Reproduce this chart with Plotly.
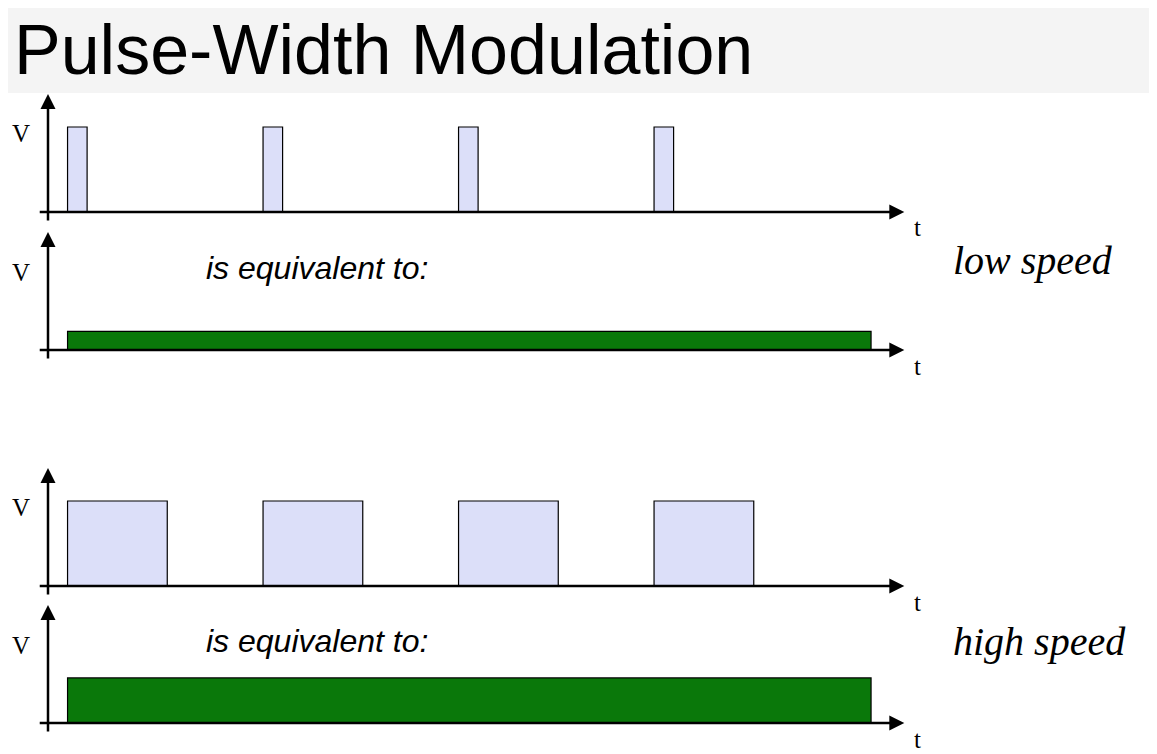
import plotly.graph_objects as go

# time in units of one PWM period, voltage in units of pulse height
pulse_starts = [0.1, 1.1, 2.1, 3.1]
low_width = 0.1
high_width = 0.51
pulse_v = 1.0
low_avg = 0.22
high_avg = 0.53
bar_start = 0.1
bar_end = 4.21
t_end = 4.38
speed_labels = ["low speed", "high speed"]

OFF = 8          # page margin of the html body
W, H = 1157 - OFF, 754 - OFF
PX = 195.5       # pixels per period
X0 = 48 - OFF    # pixel of t=0
VPX = 85         # pixels per volt

# baseline pixel y for each of the four panels
baselines = [b - OFF for b in [212, 350, 586, 723]]

fig = go.Figure()

layout = dict(
    width=W, height=H, margin=dict(l=0, r=0, t=0, b=0),
    paper_bgcolor="white", plot_bgcolor="rgba(0,0,0,0)", showlegend=False,
    xaxis=dict(range=[-X0 / PX, (W - X0) / PX], domain=[0, 1], visible=False, fixedrange=True),
)
for i, base in enumerate(baselines):
    top_px, bot_px = base - 125, base + 28
    name = "yaxis" if i == 0 else f"yaxis{i + 1}"
    layout[name] = dict(domain=[max(0, 1 - bot_px / H), 1 - top_px / H],
                        range=[-28 / VPX, 125 / VPX], visible=False, fixedrange=True)
fig.update_layout(**layout)

def yref(i):
    return "y" if i == 0 else f"y{i + 1}"

# pulse trains
for i, w in [(0, low_width), (2, high_width)]:
    fig.add_trace(go.Bar(
        x=[s + w / 2 for s in pulse_starts], y=[pulse_v] * len(pulse_starts),
        width=[w] * len(pulse_starts), yaxis=yref(i),
        marker=dict(color="#dcdff9", line=dict(color="black", width=1.2)),
    ))

# equivalent averages
for i, v in [(1, low_avg), (3, high_avg)]:
    fig.add_trace(go.Bar(
        x=[(bar_start + bar_end) / 2], y=[v], width=[bar_end - bar_start], yaxis=yref(i),
        marker=dict(color="#0a780a", line=dict(color="black", width=1.2)),
    ))

annotations = []
for i in range(4):
    yr = yref(i)
    # t axis
    annotations.append(dict(x=t_end, y=0, ax=-0.05, ay=0, xref="x", yref=yr, axref="x", ayref=yr,
                            showarrow=True, arrowhead=2, arrowsize=1.2, arrowwidth=2.5,
                            arrowcolor="black", text=""))
    # V axis
    annotations.append(dict(x=0, y=118 / VPX, ax=0, ay=-10 / VPX, xref="x", yref=yr, axref="x", ayref=yr,
                            showarrow=True, arrowhead=2, arrowsize=1.2, arrowwidth=2.5,
                            arrowcolor="black", text=""))
    annotations.append(dict(x=-0.14, y=(78 if i % 2 == 0 else 78) / VPX, xref="x", yref=yr, text="V",
                            showarrow=False, font=dict(family="Liberation Serif", size=25, color="black")))
    annotations.append(dict(x=4.45, y=-16 / VPX, xref="x", yref=yr, text="t",
                            showarrow=False, font=dict(family="Liberation Serif", size=25, color="black")))
    if i % 2 == 1:
        annotations.append(dict(x=0.8, y=82 / VPX, xref="x", yref=yr, text="<i>is equivalent to:</i>",
                                showarrow=False, xanchor="left",
                                font=dict(family="Liberation Sans", size=32, color="black")))
        annotations.append(dict(x=4.62, y=(90 if i == 1 else 82) / VPX, xref="x", yref=yr,
                                text=f"<i>{speed_labels[i // 2]}</i>", showarrow=False, xanchor="left",
                                font=dict(family="Liberation Serif", size=40, color="black")))

annotations.append(dict(x=(12 - OFF) / W, y=1 - (50 - OFF) / H, xref="paper", yref="paper",
                        xanchor="left", yanchor="middle",
                        text="Pulse-Width Modulation", showarrow=False,
                        font=dict(family="Liberation Sans", size=70, color="black")))
fig.update_layout(annotations=annotations,
                  shapes=[dict(type="rect", xref="paper", yref="paper", x0=0, x1=1,
                               y0=1 - (93 - OFF) / H, y1=1,
                               fillcolor="#f4f4f4", line=dict(width=0), layer="below")])

fig.write_html("out.html")
